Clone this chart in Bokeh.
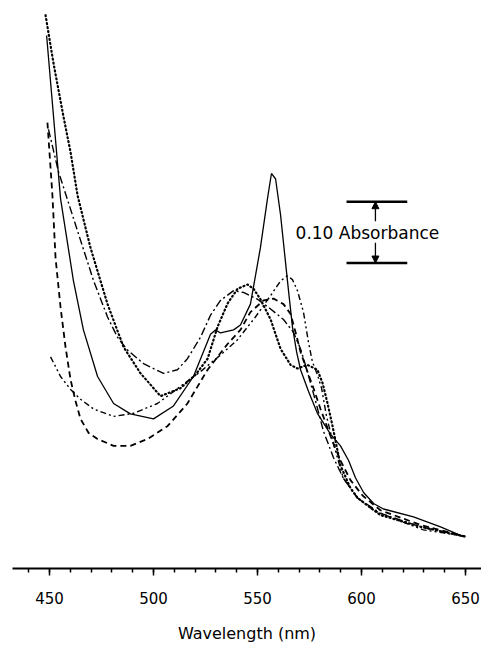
from bokeh.plotting import figure
from bokeh.models import FixedTicker, Arrow, NormalHead, Range1d
from bokeh.core.properties import value
from bokeh.embed import file_html
from bokeh.resources import INLINE

# ---- data (wavelength nm, relative absorbance) ----
solid_nm = [448.6, 455.3, 461.5, 466.3, 473.1, 480.8, 488.9, 500.0, 509.6, 519.2,
            527.4, 529.8, 532.2, 538.5, 541.8, 546.6, 551.4, 554.8, 556.7, 558.7,
            561.1, 564.4, 566.8, 568.8, 570.7, 574.5, 578.8, 585.1, 589.9, 593.8,
            597.1, 601.0, 605.8, 610.6, 625.0, 638.0, 649.0]
solid_a = [0.869, 0.603, 0.469, 0.389, 0.313, 0.269, 0.252, 0.244, 0.265, 0.313,
           0.382, 0.389, 0.384, 0.389, 0.397, 0.431, 0.523, 0.603, 0.644, 0.635,
           0.576, 0.469, 0.394, 0.353, 0.324, 0.289, 0.253, 0.219, 0.200, 0.176,
           0.148, 0.124, 0.106, 0.097, 0.084, 0.068, 0.052]

dotted_nm = [448.1, 451.9, 456.7, 460.1, 463.5, 469.7, 477.9, 485.6, 493.8, 503.4,
             513.0, 520.2, 526.0, 530.8, 535.6, 540.4, 545.2, 548.1, 551.4, 556.3,
             561.1, 565.9, 569.2, 574.0, 578.8, 581.3, 583.7, 586.1, 589.9, 594.7,
             598.1, 609.1, 628.4, 650.0]
dotted_a = [0.902, 0.824, 0.737, 0.679, 0.608, 0.523, 0.431, 0.361, 0.318, 0.281,
            0.294, 0.316, 0.342, 0.394, 0.432, 0.456, 0.463, 0.456, 0.439, 0.406,
            0.358, 0.332, 0.326, 0.332, 0.324, 0.302, 0.269, 0.232, 0.168, 0.131,
            0.115, 0.087, 0.068, 0.052]

dashed_nm = [449.0, 451.4, 452.9, 455.3, 457.7, 460.1, 462.5, 464.9, 468.8, 473.1,
             480.8, 488.9, 497.1, 506.7, 516.3, 526.0, 535.6, 541.8, 546.6, 552.9,
             557.7, 562.5, 565.9, 568.3, 570.7, 574.0, 576.9, 580.3, 585.1, 589.9,
             594.7, 600.5, 609.1, 628.4, 650.0]
dashed_a = [0.727, 0.608, 0.506, 0.426, 0.361, 0.308, 0.273, 0.244, 0.221, 0.211,
            0.200, 0.200, 0.211, 0.232, 0.269, 0.324, 0.366, 0.389, 0.418, 0.437,
            0.440, 0.431, 0.415, 0.385, 0.353, 0.321, 0.294, 0.260, 0.216, 0.176,
            0.144, 0.119, 0.095, 0.071, 0.052]

dashdot_nm = [449.5, 454.3, 463.5, 471.2, 477.9, 482.7, 487.5, 495.2, 504.8, 511.5,
              516.3, 522.6, 527.4, 532.2, 538.5, 543.3, 550.0, 556.3, 562.5, 567.3,
              570.7, 574.0, 577.9, 581.7, 586.5, 591.3, 598.1, 609.1, 628.4, 650.0]
dashdot_a = [0.716, 0.647, 0.550, 0.469, 0.410, 0.377, 0.356, 0.334, 0.318, 0.324,
             0.342, 0.377, 0.413, 0.437, 0.453, 0.450, 0.439, 0.423, 0.406, 0.385,
             0.358, 0.321, 0.273, 0.224, 0.181, 0.147, 0.115, 0.090, 0.068, 0.052]

dashdotdot_nm = [450.5, 455.3, 460.1, 464.9, 471.2, 480.8, 490.4, 501.9, 513.0, 522.6,
                 532.2, 540.4, 549.0, 556.3, 561.1, 564.4, 566.8, 569.2, 572.1, 574.5,
                 576.4, 578.8, 580.8, 583.2, 586.5, 591.3, 598.1, 605.8, 617.3, 629.8,
                 639.4, 650.0]
dashdotdot_a = [0.345, 0.313, 0.292, 0.276, 0.260, 0.248, 0.253, 0.269, 0.297, 0.321,
                0.348, 0.373, 0.410, 0.445, 0.469, 0.477, 0.471, 0.453, 0.418, 0.369,
                0.337, 0.316, 0.294, 0.248, 0.203, 0.147, 0.115, 0.095, 0.079, 0.063,
                0.058, 0.052]

major_ticks = [450, 500, 550, 600, 650]
minor_ticks = [440, 450, 460, 470, 480, 490, 500, 510, 520, 530, 540, 550,
               560, 570, 580, 590, 600, 610, 620, 630, 640, 650]

FONT = "DejaVu Sans"

p = figure(width=481, height=645, x_range=Range1d(432.2, 657.7), y_range=Range1d(0, 0.926),
           output_backend="svg", toolbar_location=None, y_axis_location=None,
           min_border_left=12, min_border_right=0, min_border_top=0, min_border_bottom=71)
p.outline_line_color = None
p.xgrid.visible = False
p.ygrid.visible = False
p.background_fill_color = "white"
p.border_fill_color = "white"

ax = p.xaxis[0]
ax.ticker = FixedTicker(ticks=major_ticks, minor_ticks=minor_ticks)
ax.axis_line_width = 2
ax.axis_line_color = "black"
ax.major_tick_line_width = 1.5
ax.minor_tick_line_width = 1.5
ax.major_tick_in = 0
ax.major_tick_out = 7
ax.minor_tick_in = 0
ax.minor_tick_out = 4
ax.major_label_text_font = FONT
ax.major_label_text_font_size = "15px"
ax.major_label_text_color = "black"
ax.major_label_standoff = 16
ax.axis_label = "Wavelength (nm)"
ax.axis_label_text_font = FONT
ax.axis_label_text_font_size = "16px"
ax.axis_label_text_font_style = "normal"
ax.axis_label_text_color = "black"
ax.axis_label_standoff = 17

common = dict(line_color="black")
p.line(solid_nm, solid_a, line_width=1.3, **common)
p.line(dotted_nm, dotted_a, line_width=2.2, line_dash="1 3", line_cap="round", **common)
p.line(dashed_nm, dashed_a, line_width=1.8, line_dash="6 4", **common)
p.line(dashdot_nm, dashdot_a, line_width=1.4, line_dash="8 3 2 3", **common)
p.line(dashdotdot_nm, dashdotdot_a, line_width=1.4, line_dash="6 3 2 3 2 3", **common)

# scale bar: 0.10 absorbance
bar_top = 0.598
bar_bot = 0.498
bar_x0, bar_x1, bar_xm = 592.8, 622.0, 606.7
p.segment(x0=[bar_x0, bar_x0], y0=[bar_top, bar_bot], x1=[bar_x1, bar_x1], y1=[bar_top, bar_bot],
          line_color="black", line_width=2.5)
p.add_layout(Arrow(x_start=bar_xm, y_start=0.566, x_end=bar_xm, y_end=bar_top,
                   line_width=1.3, end=NormalHead(size=7, fill_color="black", line_color="black")))
p.add_layout(Arrow(x_start=bar_xm, y_start=0.531, x_end=bar_xm, y_end=bar_bot,
                   line_width=1.3, end=NormalHead(size=7, fill_color="black", line_color="black")))
p.text(x=[568.3], y=[0.547], text=["0.10 Absorbance"], text_font=value(FONT),
       text_font_size="17px", text_align="left", text_baseline="middle", text_color="black")

open("out.html", "w").write(file_html(p, INLINE))
